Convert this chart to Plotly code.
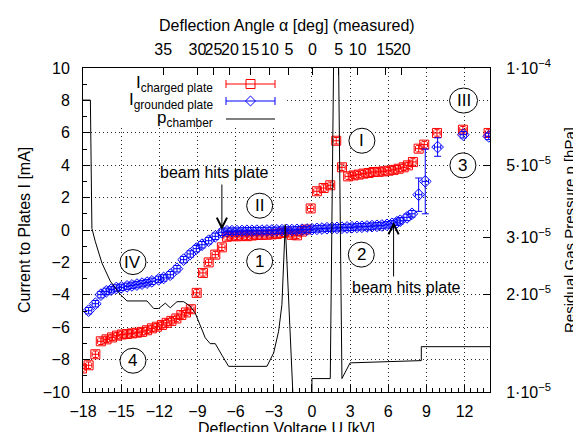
import plotly.graph_objects as go

# ---------------- data ----------------
U_charged = [-18.08, -17.56, -17.03, -16.6, -16.15, -15.72, -15.33, -14.94, -14.54, -14.15,
             -13.76, -13.36, -12.97, -12.58, -12.19, -11.79, -11.42, -11.05, -10.66, -10.27,
             -9.9, -9.52, -9.06, -8.57, -8.12, -7.6, -7.08, -6.68, -6.29, -5.9,
             -5.5, -5.11, -4.72, -4.33, -3.93, -3.54, -3.15, -2.76, -2.36, -1.97,
             -1.58, -1.18, -0.79, -0.45, -0.1, 0.39, 0.92, 1.44, 1.91, 2.36,
             2.85, 3.28, 3.67, 4.06, 4.46, 4.85, 5.24, 5.64, 6.03, 6.42,
             6.82, 7.21, 7.55, 7.94, 8.39, 8.83, 9.83, 11.87, 13.89]
I_charged = [-8.55, -8.35, -7.67, -6.87, -6.75, -6.63, -6.52, -6.45, -6.42, -6.38,
             -6.34, -6.29, -6.19, -6.07, -5.97, -5.86, -5.73, -5.61, -5.46, -5.25,
             -5.09, -4.89, -3.88, -2.65, -2.0, -1.52, -1.07, -0.42, -0.36, -0.39,
             -0.35, -0.38, -0.34, -0.31, -0.30, -0.29, -0.27, -0.25, -0.18, -0.15,
             -0.30, -0.33, -0.10, 0.03, 1.33, 2.39, 2.59, 2.76, 5.51, 3.87,
             3.31, 3.37, 3.42, 3.48, 3.52, 3.58, 3.59, 3.62, 3.66, 3.71,
             3.78, 3.87, 3.99, 4.20, 5.02, 5.27, 5.99, 6.19, 5.99]
dI_charged = [0.2] * len(U_charged)
dU_charged = [0.25] * len(U_charged)

U_grounded = [-17.56, -17.03, -16.59, -16.17, -15.78, -15.38, -14.99, -14.54, -14.15, -13.76,
              -13.36, -12.97, -12.58, -12.05, -11.66, -11.14, -10.61, -10.09, -9.57, -9.09,
              -8.65, -8.12, -7.6, -7.08, -6.68, -6.29, -5.9, -5.5, -5.11, -4.72,
              -4.33, -3.93, -3.54, -3.15, -2.76, -2.36, -1.97, -1.58, -1.18, -0.79,
              -0.39, 0.0, 0.39, 0.79, 1.18, 1.58, 1.97, 2.36, 2.76, 3.15,
              3.54, 3.93, 4.33, 4.72, 5.11, 5.5, 5.9, 6.29, 6.68, 6.94,
              7.47, 7.86, 8.39, 8.91, 9.88, 11.9, 13.9]
I_grounded = [-4.98, -4.55, -3.99, -3.79, -3.68, -3.58, -3.54, -3.48, -3.42, -3.37,
              -3.31, -3.25, -3.17, -3.05, -2.96, -2.76, -2.39, -1.83, -1.48, -1.15,
              -0.91, -0.66, -0.39, -0.14, -0.08, -0.07, -0.07, -0.06, -0.05, -0.05,
              -0.04, -0.04, -0.03, -0.03, -0.02, -0.01, 0.0, 0.0, 0.01, 0.02,
              0.03, 0.05, 0.07, 0.09, 0.11, 0.12, 0.13, 0.14, 0.16, 0.17,
              0.19, 0.20, 0.22, 0.24, 0.26, 0.28, 0.32, 0.38, 0.48, 0.57,
              0.78, 1.0, 2.18, 3.0, 5.12, 5.88, 5.78]
dI_grounded = [0.2] * 62 + [1.03, 2.0, 0.57, 0.2, 0.2]
dU_grounded = [0.25] * len(U_grounded)

U_pressure = [-18.0, -17.42, -17.3, -17.04, -16.51, -15.86, -15.07, -14.54, -12.97, -12.44,
              -12.05, -11.53, -11.14, -10.61, -10.09, -9.57, -9.17, -8.78, -8.39, -8.0,
              -7.6, -7.08, -6.55, -3.54, -3.01, -2.62, -2.36, -2.1, -1.57, -1.45,
              0.0, 0.0, 1.44, 1.9, 2.36, 3.0, 8.6, 8.6, 14.0]
p_chamber = [7.96e-5, 7.96e-5, 3.2e-5, 2.92e-5, 2.5e-5, 2.2e-5, 2.0e-5, 1.91e-5, 1.91e-5, 1.81e-5,
             1.81e-5, 1.88e-5, 1.82e-5, 1.9e-5, 1.9e-5, 1.84e-5, 1.75e-5, 1.6e-5, 1.47e-5, 1.41e-5,
             1.41e-5, 1.3e-5, 1.2e-5, 1.2e-5, 1.32e-5, 1.54e-5, 1.86e-5, 3.29e-5, 1.03e-5, 9.0e-6,
             9.0e-6, 1.1e-5, 1.1e-5, 5.5e-4, 1.1e-5, 1.23e-5, 1.25e-5, 1.38e-5, 1.38e-5]

angle_pos = [-11.7, -9.0, -7.75, -6.45, -4.86, -3.3, -1.81, 0.05, 2.1, 3.6, 5.75, 7.07]
angle_text = ["35", "30", "25", "20", "15", "10", "5", "0", "5", "10", "15", "20"]

p_tickvals = [1e-5, 2e-5, 3e-5, 5e-5, 1e-4]
p_ticktext = ["1·10<sup>−5</sup>", "2·10<sup>−5</sup>", "3·10<sup>−5</sup>",
              "5·10<sup>−5</sup>", "1·10<sup>−4</sup>"]

region_labels = ["I", "II", "III", "IV", "1", "2", "3", "4"]
region_x = [3.93, -4.11, 11.92, -14.07, -4.11, 3.88, 11.87, -14.07]
region_y = [5.51, 1.5, 7.99, -1.98, -1.93, -1.52, 3.99, -8.07]

RED = "rgb(255,0,0)"
BLUE = "rgb(0,0,255)"
FONT = "Liberation Sans, Arial, sans-serif"
FS = 16

# plot area in pixels
L, R, T, B = 75, 482, 60, 384
W, H = 581, 432


def px2paper(px, py):
    return (px - L) / (R - L), (B - py) / (B - T)


fig = go.Figure()

fig.add_trace(go.Scatter(
    x=U_pressure, y=p_chamber, mode="lines", yaxis="y2",
    line=dict(color="black", width=1), name="p_chamber"))

fig.add_trace(go.Scatter(
    x=U_charged, y=I_charged, mode="markers", name="I_charged plate",
    marker=dict(symbol="square-open", size=9, color=RED, line=dict(width=1, color=RED)),
    error_y=dict(type="data", array=dI_charged, color=RED, thickness=1, width=2.5),
    error_x=dict(type="data", array=dU_charged, color=RED, thickness=1, width=2.5)))

fig.add_trace(go.Scatter(
    x=U_grounded, y=I_grounded, mode="markers", name="I_grounded plate",
    marker=dict(symbol="diamond-open", size=9, color=BLUE, line=dict(width=1, color=BLUE)),
    error_y=dict(type="data", array=dI_grounded, color=BLUE, thickness=1, width=3.5),
    error_x=dict(type="data", array=dU_grounded, color=BLUE, thickness=1, width=2)))

axis_common = dict(showline=True, linecolor="black", linewidth=1, ticks="inside",
                   tickcolor="black", ticklen=7, tickwidth=1, zeroline=False,
                   tickfont=dict(family=FONT, size=FS, color="black"))
GRID = dict(showgrid=True, gridcolor="rgb(40,40,40)", griddash="1px,3px", gridwidth=1)

fig.update_layout(
    width=W, height=H,
    margin=dict(l=L, r=W - R, t=T, b=H - B),
    paper_bgcolor="white", plot_bgcolor="white",
    showlegend=False,
    font=dict(family=FONT, size=FS, color="black"),
    xaxis=dict(range=[-18, 14], tickmode="linear", tick0=0, dtick=3, tickangle=0,
               minor=dict(dtick=0.5, tick0=0, ticks="inside", ticklen=4, tickcolor="black", showgrid=False),
               ticklabelstandoff=5, **GRID, **axis_common),
    xaxis2=dict(range=[-18, 14], overlaying="x", side="top", tickmode="array",
                tickvals=angle_pos, ticktext=angle_text, showgrid=False, tickangle=0,
                ticklabelstandoff=6, **axis_common),
    yaxis=dict(range=[-10, 10], tickmode="linear", tick0=0, dtick=2,
               minor=dict(dtick=1, tick0=0, ticks="inside", ticklen=4, tickcolor="black", showgrid=False),
               ticklabelstandoff=9, **GRID, **axis_common),
    yaxis2=dict(type="log", range=[-5, -4], overlaying="y", side="right",
                tickmode="array", tickvals=p_tickvals, ticktext=p_ticktext,
                showgrid=False, ticklabelstandoff=12, **axis_common),
)

# dummy trace to activate the top axis
fig.add_trace(go.Scatter(x=[None], y=[None], xaxis="x2", showlegend=False))

shapes = []
annotations = []

# opaque key box (hides grid behind legend)
shapes.append(dict(type="rect", xref="x", yref="y", x0=-18, x1=-2.2, y0=6.35, y1=10,
                   fillcolor="white", line=dict(width=0), layer="between"))

# axis titles
annotations.append(dict(text="Deflection Voltage U [kV]", xref="paper", yref="paper",
                        x=0.5, y=0, yshift=-36, showarrow=False, yanchor="middle",
                        font=dict(size=FS)))
annotations.append(dict(text="Deflection Angle α [deg] (measured)", xref="paper", yref="paper",
                        x=0.5, y=1, yshift=43, showarrow=False, yanchor="middle",
                        font=dict(size=FS)))
annotations.append(dict(text="Current to Plates I [mA]", xref="paper", yref="paper",
                        x=0, xshift=-59, y=0.5, textangle=-90, showarrow=False,
                        xanchor="center", font=dict(size=FS)))
annotations.append(dict(text="Residual Gas Pressure p [hPa]", xref="paper", yref="paper",
                        x=1, xshift=79, y=0.5, textangle=-90, showarrow=False,
                        xanchor="center", font=dict(size=15)))

# beam hits plate labels and arrows
annotations.append(dict(text="beam hits plate", x=-7.66, y=3.52, xref="x", yref="y",
                        showarrow=False, font=dict(size=FS)))
annotations.append(dict(text="", x=-7.08, y=0.0, ax=-7.08, ay=2.9, xref="x", yref="y",
                        axref="x", ayref="y", showarrow=True, arrowhead=5, arrowsize=2,
                        arrowwidth=1, arrowcolor="black"))
annotations.append(dict(text="beam hits plate", x=7.43, y=-3.52, xref="x", yref="y",
                        showarrow=False, font=dict(size=FS)))
annotations.append(dict(text="", x=6.42, y=0.5, ax=6.42, ay=-2.96, xref="x", yref="y",
                        axref="x", ayref="y", showarrow=True, arrowhead=5, arrowsize=2,
                        arrowwidth=1, arrowcolor="black"))

# circled region labels
for lab, xv, yv in zip(region_labels, region_x, region_y):
    hw = 14 if lab == "III" else 13
    shapes.append(dict(type="circle", xref="x", yref="y", xsizemode="pixel", ysizemode="pixel",
                       xanchor=xv, yanchor=yv, x0=-hw, x1=hw, y0=-12.5, y1=12.5,
                       line=dict(color="black", width=1), fillcolor="white", layer="between"))
    annotations.append(dict(text=lab, x=xv, y=yv, xref="x", yref="y", showarrow=False,
                            font=dict(size=17)))

# key (text left of sample, gnuplot style)
key_rows = [("I<sub>charged plate</sub>", RED, "square", 76),
            ("I<sub>grounded plate</sub>", BLUE, "diamond", 93),
            ("p<sub>chamber</sub>", "black", None, 111)]
for text, col, sym, py in key_rows:
    xt, yt = px2paper(207, py)
    annotations.append(dict(text=text, xref="paper", yref="paper", x=xt, y=yt,
                            xanchor="right", yanchor="middle", showarrow=False,
                            font=dict(size=17)))
    x0, y0 = px2paper(218, py)
    x1, _ = px2paper(267, py)
    shapes.append(dict(type="line", xref="paper", yref="paper", x0=x0, x1=x1, y0=y0, y1=y0,
                       line=dict(color=col, width=1)))
    if sym is not None:
        for cx in (218, 267):
            a, b0 = px2paper(cx, py - 4)
            _, b1 = px2paper(cx, py + 4)
            shapes.append(dict(type="line", xref="paper", yref="paper", x0=a, x1=a, y0=b0, y1=b1,
                               line=dict(color=col, width=1)))
        cx = 242.5
        if sym == "square":
            a0, b0 = px2paper(cx - 4.5, py - 4.5)
            a1, b1 = px2paper(cx + 4.5, py + 4.5)
            shapes.append(dict(type="rect", xref="paper", yref="paper", x0=a0, x1=a1, y0=b0, y1=b1,
                               line=dict(color=col, width=1)))
        else:
            pts = [px2paper(cx, py - 5), px2paper(cx + 5, py), px2paper(cx, py + 5), px2paper(cx - 5, py)]
            path = "M " + " L ".join(f"{p[0]:.5f},{p[1]:.5f}" for p in pts) + " Z"
            shapes.append(dict(type="path", xref="paper", yref="paper", path=path,
                               line=dict(color=col, width=1)))

fig.update_layout(shapes=shapes, annotations=annotations)
fig.write_html("out.html")
